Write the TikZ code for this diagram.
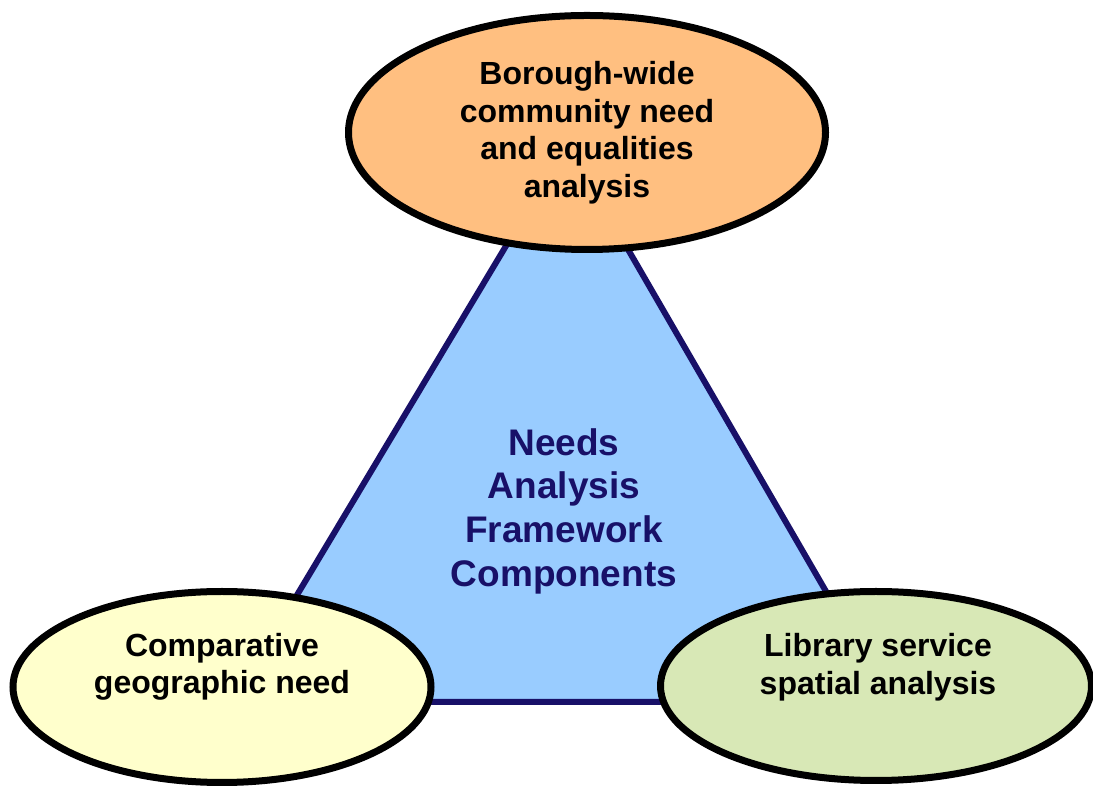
\documentclass[tikz,border=0pt]{standalone}
\usepackage{fontspec}
\setmainfont{Liberation Sans}
\usepackage{tikz}
\usetikzlibrary{positioning, shapes.geometric, calc}

\definecolor{navyline}{RGB}{24,16,104}
\definecolor{skyfill}{HTML}{99CCFF}
\definecolor{orangefill}{HTML}{FFBF80}
\definecolor{yellowfill}{HTML}{FFFFCC}
\definecolor{greenfill}{HTML}{D8E8B6}

\begin{document}
\begin{tikzpicture}[
    x=1pt, y=1pt,
    blob/.style={ellipse, draw=black, line width=7pt, inner sep=0pt},
    lbl/.style={align=center, font=\bfseries\fontsize{32}{37.5}\selectfont},
    core/.style={align=center, text=navyline, font=\bfseries\fontsize{37}{43.7}\selectfont}
]
    \useasboundingbox (0,0) rectangle (1093,787);

    % Triangle
    \coordinate (apex) at (567,643);
    \coordinate (baseL) at (233,85);
    \coordinate (baseR) at (890,85);
    \draw[fill=skyfill, draw=navyline, line width=6pt] (apex) -- (baseL) -- (baseR) -- cycle;
    \node[core] (frame) at (564,276) {Needs\\Analysis\\Framework\\Components};

    % Top ellipse
    \node[blob, fill=orangefill, minimum width=477pt, minimum height=234pt, lbl] (borough) at (587,654.5)
        {Borough-wide\\community need\\and equalities\\analysis};

    % Bottom ellipses
    \node[blob, fill=yellowfill, minimum width=418pt, minimum height=191pt] (geo) at (222,100) {};
    \node[lbl] (geotext) at ([yshift=20pt]geo.center) {Comparative\\geographic need};

    \node[blob, fill=greenfill, minimum width=431pt, minimum height=189pt] (lib) at (876,101) {};
    \node[lbl] (libtext) at ([xshift=2pt, yshift=19pt]lib.center) {Library service\\spatial analysis};

\end{tikzpicture}
\end{document}
